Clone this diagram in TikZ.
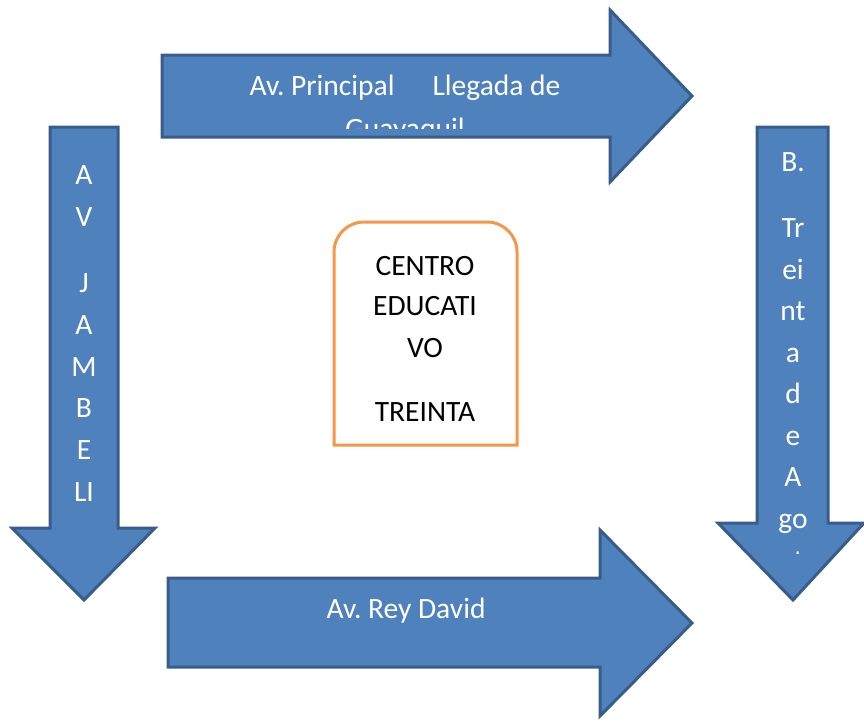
\documentclass[tikz,border=0pt]{standalone}
\usepackage{fontspec}
\setmainfont{Carlito}
\frenchspacing
\definecolor{roadfill}{HTML}{4F81BD}
\definecolor{roadline}{HTML}{385D8A}
\definecolor{schoolline}{HTML}{F79646}
\tikzset{
  road/.style={fill=roadfill, draw=roadline, line width=3pt, line join=miter},
  roadtext/.style={text=white, font=\fontsize{29.5}{35}\selectfont, anchor=base, inner sep=0pt},
  schooltext/.style={text=black, font=\fontsize{29.5}{35}\selectfont, anchor=base, inner sep=0pt}
}
\begin{document}
\begin{tikzpicture}[x=1pt,y=-1pt]
    \useasboundingbox (0,0) rectangle (864,720);
    \draw[road] (162,55) -- (610,55) -- (610,10) -- (692,96) -- (610,182) -- (610,137) -- (162,137) -- cycle;
    \draw[road] (168,578) -- (600,578) -- (600,530) -- (692,623) -- (600,716) -- (600,667) -- (168,667) -- cycle;
    \draw[road] (50,127) -- (118,127) -- (118,528) -- (155,528) -- (84,600) -- (12,528) -- (50,528) -- cycle;
    \draw[road] (757,127) -- (828,127) -- (828,523) -- (864,523) -- (793,600) -- (718,523) -- (757,523) -- cycle;
    \draw[schoolline, fill=white, line width=3pt] (334,445) -- (334,252) arc[start angle=180, end angle=270, radius=30]
        -- (487,222) arc[start angle=270, end angle=360, radius=30] -- (517,445) -- cycle;
    \node[roadtext] (principal) at (405,95) {Av. Principal\hspace{38pt}Llegada de};
    \begin{scope}
        \clip (162,55) rectangle (610,128);
        \node[roadtext] (guayaquil) at (405,138) {Guayaquil};
    \end{scope}
    \node[roadtext] (reydavid) at (406,618) {Av. Rey David};
    \foreach \t/\y in {A/184,V/226,J/292,A/334,M/376,B/417,E/459,LI/501}
        \node[roadtext] (jambeli-\y) at (84,\y) {\t};
    \foreach \t/\y in {B./171,Tr/237,ei/279,nt/320,a/362,d/403,e/445,A/486,go/528}
        \node[roadtext] (treinta-\y) at (793,\y) {\t};
    \begin{scope}
        \clip (757,540) rectangle (828,553);
        \node[roadtext] (treinta-570) at (793,570) {st};
    \end{scope}
    \foreach \t/\y in {CENTRO/275,EDUCATI/315,VO/357,TREINTA/421}
        \node[schooltext] (school-\y) at (425,\y) {\t};
\end{tikzpicture}
\end{document}
